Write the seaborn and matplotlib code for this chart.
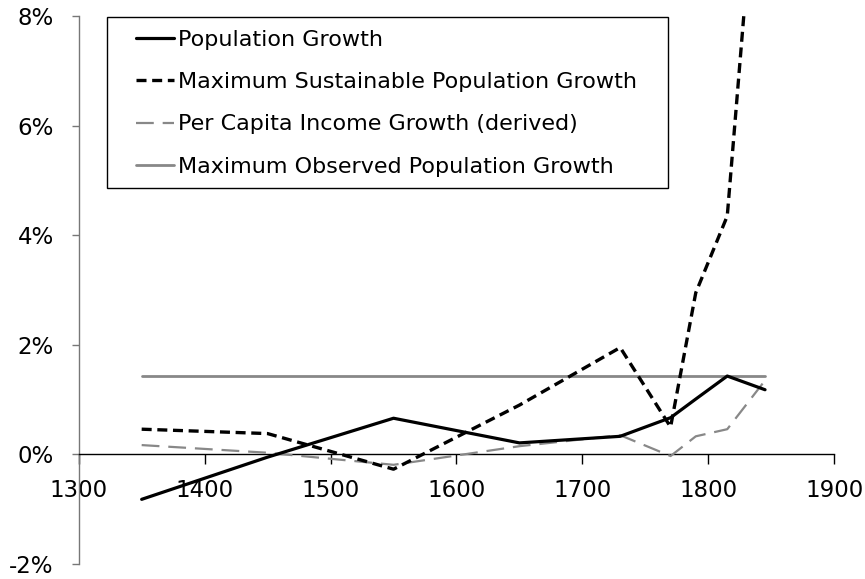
import matplotlib
matplotlib.use("Agg")
import matplotlib.pyplot as plt
import seaborn as sns
import pandas as pd
from matplotlib.ticker import FuncFormatter
from matplotlib.patches import Rectangle

# ---- data (percent) ----
years = [1350, 1450, 1550, 1650, 1730, 1770, 1790, 1815, 1845]
population_growth = [-0.82, -0.05, 0.66, 0.21, 0.33, 0.67, 1.01, 1.43, 1.18]
max_sustainable = [0.46, 0.38, -0.27, 0.90, 1.95, 0.50, 2.95, 4.35, 12.7]
per_capita_income = [0.17, 0.03, -0.19, 0.15, 0.35, -0.03, 0.33, 0.46, 1.35]
max_observed = 1.43
x_ticks = [1300, 1400, 1500, 1600, 1700, 1800, 1900]
y_ticks = [-2, 0, 2, 4, 6, 8]

labels = ["Population Growth",
          "Maximum Sustainable Population Growth",
          "Per Capita Income Growth (derived)",
          "Maximum Observed Population Growth"]

sns.set_theme(style="white")
plt.rcParams["font.family"] = ["DejaVu Sans"]
plt.rcParams["text.color"] = "black"
plt.rcParams["xtick.color"] = "black"
plt.rcParams["ytick.color"] = "black"
plt.rcParams["xtick.labelcolor"] = "black"
plt.rcParams["ytick.labelcolor"] = "black"

W, H = 865, 579
fig = plt.figure(figsize=(W / 100, H / 100), dpi=100)
ax = fig.add_axes([78.7 / W, 1 - 564 / H, (834.3 - 78.7) / W, (564 - 16) / H])

df = pd.DataFrame({"year": years, "pop": population_growth,
                   "sus": max_sustainable, "pci": per_capita_income})
df_obs = pd.DataFrame({"year": [years[0], years[-1]],
                       "obs": [max_observed, max_observed]})

gray = "#888888"
sns.lineplot(data=df_obs, x="year", y="obs", ax=ax, color=gray, lw=2.0,
             label=labels[3], zorder=2)
l_obs = ax.lines[-1]
sns.lineplot(data=df, x="year", y="pci", ax=ax, color=gray, lw=1.6,
             label=labels[2], zorder=3)
l_pci = ax.lines[-1]
l_pci.set_dashes((8, 4))
sns.lineplot(data=df, x="year", y="sus", ax=ax, color="black", lw=2.4,
             label=labels[1], zorder=4)
l_sus = ax.lines[-1]
l_sus.set_dashes((3, 1.7))
sns.lineplot(data=df, x="year", y="pop", ax=ax, color="black", lw=2.3,
             label=labels[0], zorder=5)
l_pop = ax.lines[-1]

ax.set_xlim(1300, 1900)
ax.set_ylim(-2, 8)
ax.set_xticks(x_ticks)
ax.set_yticks(y_ticks)
ax.yaxis.set_major_formatter(FuncFormatter(lambda v, p: f"{v:.0f}%"))
ax.set_xlabel("")
ax.set_ylabel("")

for s in ["top", "right"]:
    ax.spines[s].set_visible(False)
ax.spines["bottom"].set_position(("data", 0))
ax.spines["bottom"].set_color("black")
ax.spines["bottom"].set_linewidth(1.0)
ax.spines["left"].set_color("#777777")
ax.spines["left"].set_linewidth(1.0)

ax.tick_params(axis="x", which="major", direction="out", length=7, width=1,
               color="black", bottom=True, labelsize=16.5, pad=11,
               labelcolor="black")
ax.tick_params(axis="y", which="major", direction="out", length=5, width=1,
               color="#777777", left=True, labelsize=16.5, pad=13,
               labelcolor="black")

# legend box (frame drawn separately to match the reference padding)
box = Rectangle((107 / W, 1 - 188 / H), (668 - 107) / W, (188 - 17) / H,
                transform=fig.transFigure, facecolor="white",
                edgecolor="black", linewidth=1.0, zorder=9, clip_on=False)
ax.add_artist(box)
leg = ax.legend([l_pop, l_sus, l_pci, l_obs], labels,
                loc="upper left",
                bbox_to_anchor=(136 / W, 1 - 30 / H),
                bbox_transform=fig.transFigure,
                frameon=False, fontsize=16,
                handlelength=1.7, handletextpad=0.2, labelspacing=1.0,
                borderpad=0.0, borderaxespad=0.0)
leg.set_zorder(11)

fig.savefig("out.png", dpi=100)
